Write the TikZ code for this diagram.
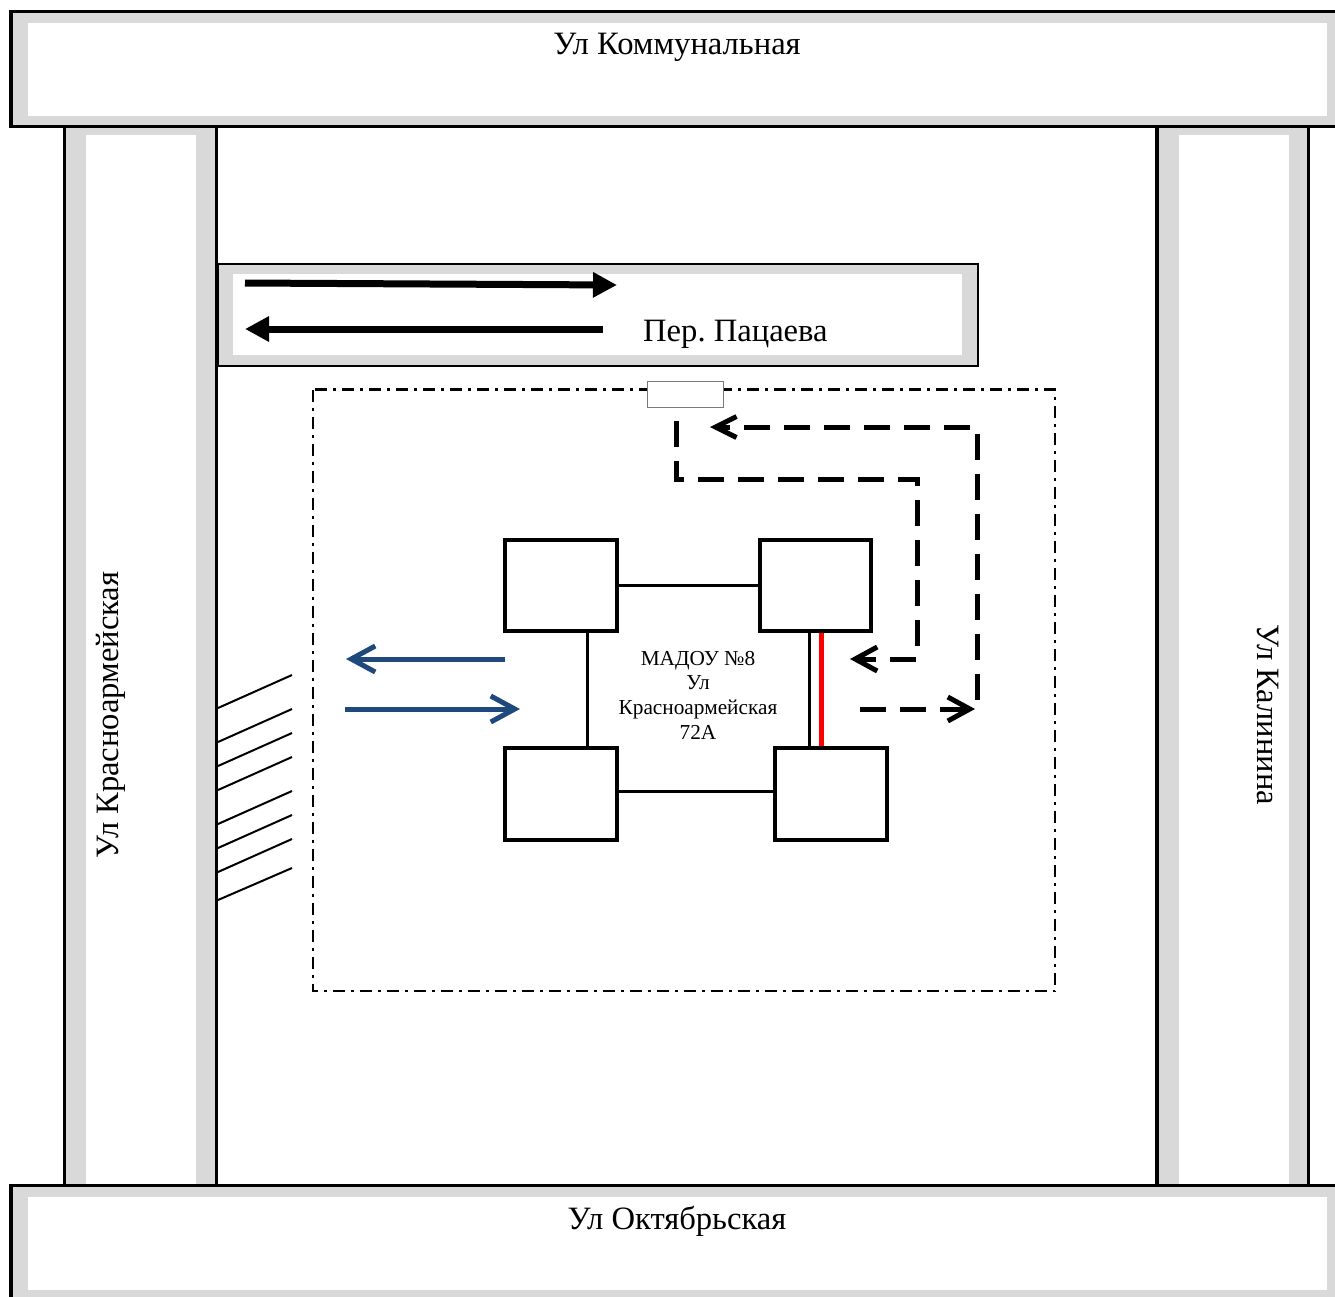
\documentclass[tikz,border=0pt]{standalone}
\usepackage{fontspec}
\setmainfont{Liberation Serif}
\usetikzlibrary{arrows.meta,calc}
\definecolor{roadgray}{RGB}{217,217,217}
\definecolor{arrowblue}{RGB}{31,73,125}
\definecolor{gategray}{RGB}{120,120,120}
\frenchspacing
\begin{document}
\begin{tikzpicture}[x=1pt,y=-1pt,
  bldg/.style={draw, line width=4pt, fill=white, inner sep=0pt, minimum width=112pt, minimum height=91pt},
  link/.style={line width=3pt},
  dashline/.style={line width=5pt, dash pattern=on 26pt off 14pt, -{Straight Barb[length=22pt,width=24pt]}},
  bluearrow/.style={line width=5pt, draw=arrowblue, -{Straight Barb[length=24pt,width=26pt]}},
  bigarrow/.style={line width=7pt, -{Triangle[length=24pt,width=24pt]}},
  streetname/.style={font=\fontsize{32.6}{38}\selectfont, inner sep=0pt},
  hatch/.style={line width=2pt}]
\useasboundingbox (0,0) rectangle (1335,1296);
\clip (0,0) rectangle (1335,1296);
% vertical roads
\fill[roadgray] (66,127) rectangle (215,1186);
\fill[white] (86,135) rectangle (196,1186);
\draw[line width=3pt] (64.5,127) -- (64.5,1186) (216.5,127) -- (216.5,1186);
\fill[roadgray] (1159,127) rectangle (1307,1186);
\fill[white] (1179,135) rectangle (1289,1186);
\draw[line width=3.5pt] (1157,127) -- (1157,1186);
\draw[line width=3pt] (1308.5,127) -- (1308.5,1186);
% top road
\draw[line width=3.5pt, fill=roadgray] (10.75,11.25) rectangle (1350,126.5);
\fill[white] (28,23) rectangle (1327,116);
% bottom road
\draw[line width=3.5pt, fill=roadgray] (10.75,1185.25) rectangle (1350,1320);
\fill[white] (28,1197) rectangle (1327,1290);
% lane
\draw[line width=2pt, fill=roadgray] (217.5,264) rectangle (977.5,365.5);
\fill[white] (233,274) rectangle (962,355);
\draw[bigarrow] (245,283) -- (617,285);
\draw[bigarrow] (603,329) -- (245,329);
% street names
\node[streetname, anchor=base] (kom) at (677,54) {Ул Коммунальная};
\node[streetname, anchor=base] (okt) at (677,1229) {Ул Октябрьская};
\node[streetname, anchor=base west] (pac) at (643,341) {Пер. Пацаева};
\node[streetname, anchor=base, rotate=90] (kra) at (118,715) {Ул Красноармейская};
\node[streetname, anchor=base, rotate=-90] (kal) at (1257,715) {Ул Калинина};
% territory
\draw[line width=2.5pt, dash pattern=on 12pt off 6pt on 3pt off 6pt] (313,389.5) rectangle (1055,991);
\node[draw=gategray, fill=white, line width=1pt, minimum width=76pt, minimum height=26pt, inner sep=0pt] (gate) at (685,394) {};
% hatching
\foreach \a/\b in {708/675, 742/709, 766/733, 790/757, 824/791, 848/815, 872/839, 900/868}
  \draw[hatch] (218,\a) -- (292,\b);
% buildings
\node[bldg] (b1) at (561,585.5) {};
\node[bldg, minimum width=111pt] (b2) at (815.5,585.5) {};
\node[bldg, minimum height=92pt] (b3) at (561,794) {};
\node[bldg, minimum height=92pt] (b4) at (831,794) {};
\draw[link] (b1.east) -- (b2.west);
\draw[link] ($(b1.south)+(26,0)$) -- ($(b3.north)+(26,0)$);
\draw[link] ($(b3.east)+(0,-3)$) -- ($(b4.west)+(0,-3)$);
\coordinate (r1) at ($(b2.south)+(-6.5,0)$);
\coordinate (r2) at ($(b2.south)+(5.5,0)$);
\draw[link] (r1) -- (r1 |- b4.north);
\draw[line width=5pt, red] (r2) -- (r2 |- b4.north);
\node[align=center, inner sep=0pt, font=\fontsize{21.3}{24.7}\selectfont] (lbl) at (698,695) {МАДОУ №8\\Ул\\Красноармейская\\72А};
% routes
\draw[dashline] (676,421) -- (676,479) -- (917,479) -- (917,659) -- (850,659);
\draw[dashline] (860,709) -- (975,709);
\draw[dashline, -{Straight Barb[length=21pt,width=21pt]}] (977,700) -- (977,427) -- (710,427);
\draw[bluearrow] (505,659) -- (346,659);
\draw[bluearrow] (345,709) -- (520,709);
\end{tikzpicture}
\end{document}
